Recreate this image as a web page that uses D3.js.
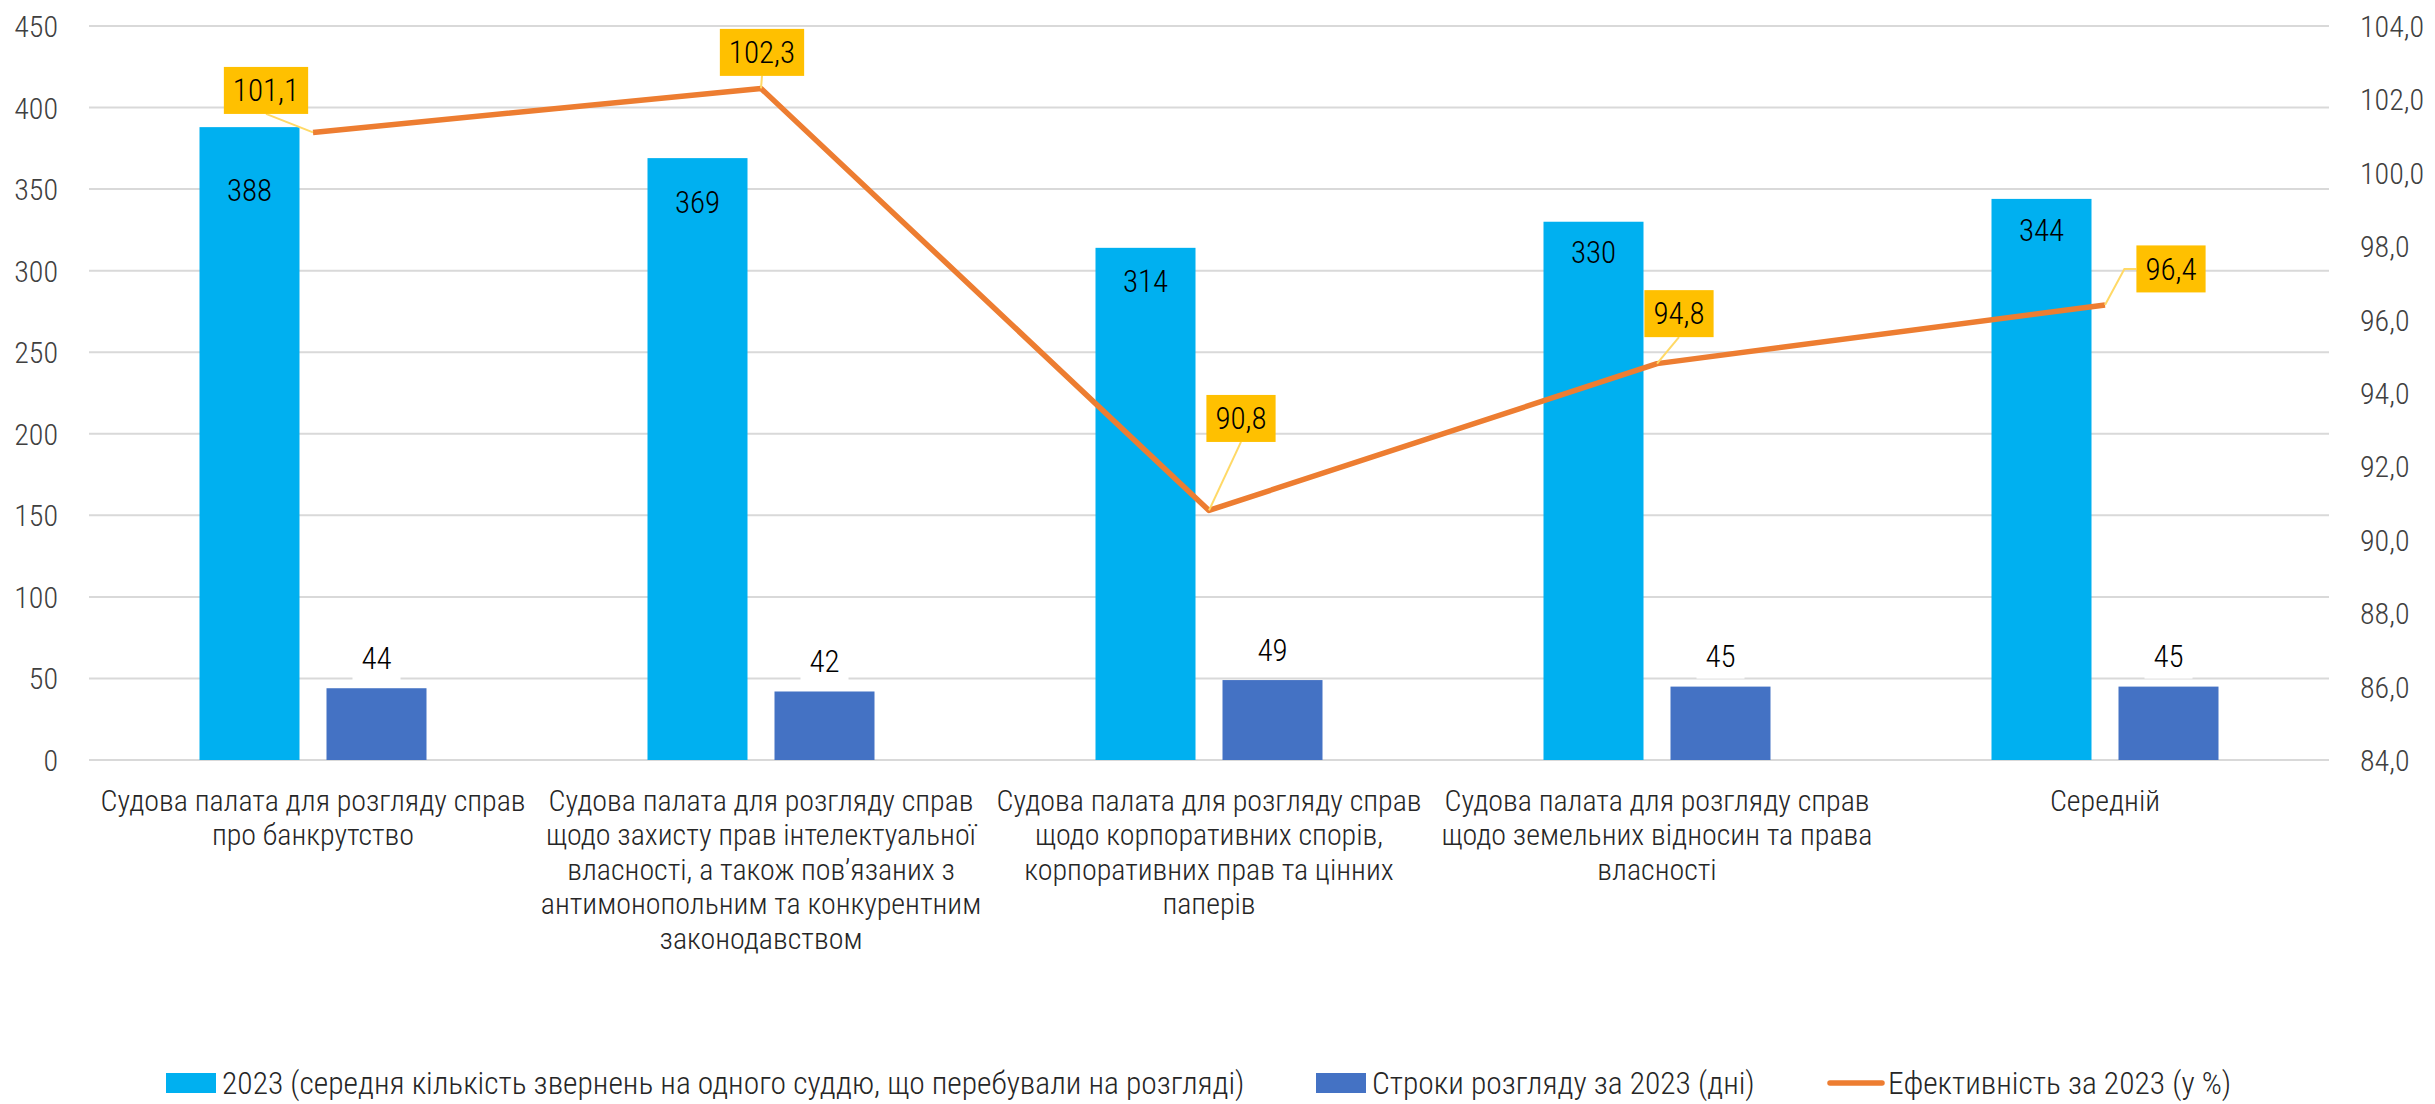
<!DOCTYPE html>
<html>
<head>
<meta charset="utf-8">
<script src="https://cdn.jsdelivr.net/npm/d3@7"></script>
<style>
  body { margin: 0; background: #fff; }
  svg text { font-family: "Roboto Condensed", Roboto, sans-serif; font-weight: 300; }
</style>
</head>
<body>
<svg id="chart"></svg>
<script>
const width = 2435;
const height = 1104;

// Data
const categories = [
  ["Судова палата для розгляду справ", "про банкрутство"],
  ["Судова палата для розгляду справ", "щодо захисту прав інтелектуальної", "власності, а також пов’язаних з", "антимонопольним та конкурентним", "законодавством"],
  ["Судова палата для розгляду справ", "щодо корпоративних спорів,", "корпоративних прав та цінних", "паперів"],
  ["Судова палата для розгляду справ", "щодо земельних відносин та права", "власності"],
  ["Середній"]
];
const casesPerJudge = [388, 369, 314, 330, 344];
const reviewDays = [44, 42, 49, 45, 45];
const efficiency = [101.1, 102.3, 90.8, 94.8, 96.4];
const leftTicks = [0, 50, 100, 150, 200, 250, 300, 350, 400, 450];
const rightTicks = [84, 86, 88, 90, 92, 94, 96, 98, 100, 102, 104];
const seriesNames = [
  "2023 (середня кількість звернень на одного суддю, що перебували на розгляді)",
  "Строки розгляду за 2023 (дні)",
  "Ефективність за 2023 (у %)"
];

// Label placement (layout only)
const barLabelDrop = [63, 44, 33, 30, 31];
const calloutShift = [[-47, -42, "bottom"], [1, -36, "bottom"], [32, -92, "bottom"], [22, -50, "bottom"], [66, -36, "left"]];

const colors = { cases: "#00B0F0", days: "#4472C4", line: "#ED7D31", callout: "#FFC000", leader: "#FFD966", grid: "#D9D9D9" };
const fmt = v => d3.format(".1f")(v).replace(".", ",");

const margin = { top: 26, right: 106, bottom: 344, left: 89 };
const svg = d3.select("#chart").attr("width", width).attr("height", height);

const x = d3.scaleBand()
  .domain(d3.range(categories.length))
  .range([margin.left, width - margin.right]);

const xInner = d3.scaleBand()
  .domain([0, 1])
  .range([x.bandwidth() / 2 - 113.5, x.bandwidth() / 2 + 113.5])
  .paddingInner(0.2126);

const y = d3.scaleLinear().domain([0, 450]).range([height - margin.bottom, margin.top]);
const y2 = d3.scaleLinear().domain([84, 104]).range([height - margin.bottom, margin.top]);

// Gridlines
svg.append("g")
  .selectAll("line")
  .data(leftTicks)
  .join("line")
  .attr("x1", margin.left)
  .attr("x2", width - margin.right)
  .attr("y1", d => y(d))
  .attr("y2", d => y(d))
  .attr("stroke", colors.grid)
  .attr("stroke-width", 2);

// Left axis
const leftAxis = svg.append("g")
  .attr("transform", `translate(${margin.left - 31},0)`)
  .call(d3.axisLeft(y).tickValues(leftTicks).tickSize(0).tickPadding(0));
leftAxis.select(".domain").remove();
leftAxis.selectAll("text").attr("font-size", 30).attr("fill", "#404040").attr("dy", "0.35em");

// Right axis
const rightAxis = svg.append("g")
  .attr("transform", `translate(${width - margin.right + 31},0)`)
  .call(d3.axisRight(y2).tickValues(rightTicks).tickSize(0).tickPadding(0).tickFormat(fmt));
rightAxis.select(".domain").remove();
rightAxis.selectAll("text").attr("font-size", 30).attr("fill", "#404040").attr("dy", "0.35em");

// Bars
const groups = svg.append("g")
  .selectAll("g")
  .data(categories.map((c, i) => i))
  .join("g")
  .attr("transform", i => `translate(${x(i)},0)`);

groups.append("rect")
  .attr("x", xInner(0))
  .attr("width", xInner.bandwidth())
  .attr("y", i => y(casesPerJudge[i]))
  .attr("height", i => y(0) - y(casesPerJudge[i]))
  .attr("fill", colors.cases);

groups.append("rect")
  .attr("x", xInner(1))
  .attr("width", xInner.bandwidth())
  .attr("y", i => y(reviewDays[i]))
  .attr("height", i => y(0) - y(reviewDays[i]))
  .attr("fill", colors.days);

groups.append("text")
  .attr("x", xInner(0) + xInner.bandwidth() / 2)
  .attr("y", i => y(casesPerJudge[i]) + barLabelDrop[i])
  .attr("dy", "0.35em")
  .attr("text-anchor", "middle")
  .attr("font-size", 31)
  .attr("fill", "#000")
  .text(i => casesPerJudge[i]);

// days labels with white backing that cuts the gridline
groups.append("rect")
  .attr("x", xInner(1) + xInner.bandwidth() / 2 - 24)
  .attr("y", i => y(reviewDays[i]) - 52)
  .attr("width", 48)
  .attr("height", 44)
  .attr("fill", "#fff");

groups.append("text")
  .attr("x", xInner(1) + xInner.bandwidth() / 2)
  .attr("y", i => y(reviewDays[i]) - 30)
  .attr("dy", "0.35em")
  .attr("text-anchor", "middle")
  .attr("font-size", 31)
  .attr("fill", "#000")
  .text(i => reviewDays[i]);

// Efficiency line
const linePts = efficiency.map((v, i) => [x(i) + x.bandwidth() / 2, y2(v)]);
svg.append("path")
  .datum(linePts)
  .attr("d", d3.line())
  .attr("fill", "none")
  .attr("stroke", colors.line)
  .attr("stroke-width", 5.5)
  .attr("stroke-linejoin", "round");

// Callouts
const callouts = svg.append("g")
  .selectAll("g")
  .data(efficiency.map((v, i) => i))
  .join("g");

callouts.each(function (i) {
  const g = d3.select(this);
  const [px, py] = linePts[i];
  const [dx, dy, anchor] = calloutShift[i];
  const label = fmt(efficiency[i]);
  const t = g.append("text")
    .attr("x", px + dx)
    .attr("y", py + dy)
    .attr("dy", "0.35em")
    .attr("text-anchor", "middle")
    .attr("font-size", 31)
    .attr("fill", "#000")
    .text(label);
  const w = t.node().getComputedTextLength() + 18;
  const h = 47;
  const bx = px + dx - w / 2, by = py + dy - h / 2;
  let path;
  if (anchor === "left") {
    path = [[bx, by + h / 2], [bx - 12, by + h / 2], [px, py]];
  } else {
    path = [[px + dx, by + h], [px, py]];
  }
  g.insert("path", "text")
    .attr("d", d3.line()(path))
    .attr("fill", "none")
    .attr("stroke", colors.leader)
    .attr("stroke-width", 2);
  g.insert("rect", "text")
    .attr("x", bx).attr("y", by)
    .attr("width", w).attr("height", h)
    .attr("fill", colors.callout);
});

// Category labels
const catLabels = svg.append("g")
  .selectAll("text")
  .data(categories)
  .join("text")
  .attr("x", (d, i) => x(i) + x.bandwidth() / 2)
  .attr("y", 800)
  .attr("text-anchor", "middle")
  .attr("font-size", 30)
  .attr("fill", "#262626");

catLabels.selectAll("tspan")
  .data(d => d)
  .join("tspan")
  .attr("x", function () { return this.parentNode.getAttribute("x"); })
  .attr("dy", (d, j) => j === 0 ? "0.35em" : 34.5)
  .text(d => d);

// Legend
const legendY = 1083;
const legend = svg.append("g");
legend.append("rect").attr("x", 166).attr("y", legendY - 10).attr("width", 50).attr("height", 20).attr("fill", colors.cases);
legend.append("text").attr("x", 222).attr("y", legendY).attr("dy", "0.35em").attr("font-size", 31.5).attr("fill", "#262626").text(seriesNames[0]);
legend.append("rect").attr("x", 1316).attr("y", legendY - 10).attr("width", 50).attr("height", 20).attr("fill", colors.days);
legend.append("text").attr("x", 1372).attr("y", legendY).attr("dy", "0.35em").attr("font-size", 31.5).attr("fill", "#262626").text(seriesNames[1]);
legend.append("line").attr("x1", 1830).attr("x2", 1882).attr("y1", legendY).attr("y2", legendY).attr("stroke", colors.line).attr("stroke-width", 5.5).attr("stroke-linecap", "round");
legend.append("text").attr("x", 1888).attr("y", legendY).attr("dy", "0.35em").attr("font-size", 31.5).attr("fill", "#262626").text(seriesNames[2]);
</script>
</body>
</html>
